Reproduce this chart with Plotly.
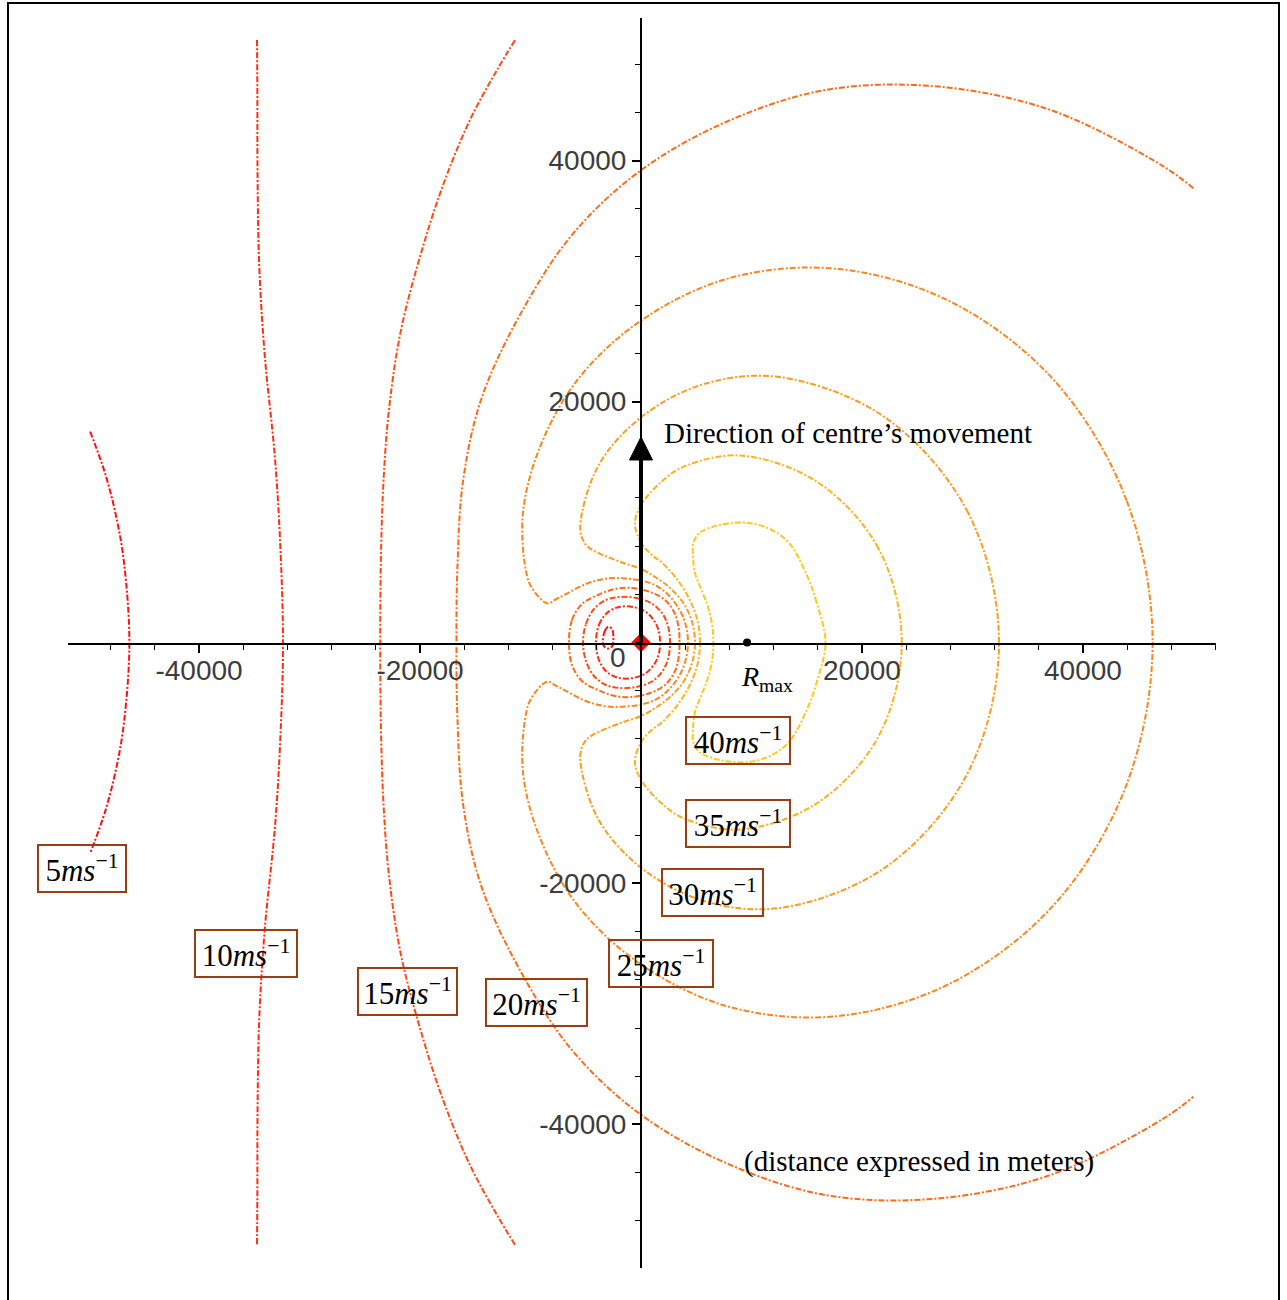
import plotly.graph_objects as go

# ---------------- data (metres / m s^-1) ----------------
LEVELS = [5, 10, 15, 20, 25, 30, 35, 40]

# outer branches of the iso-speed curves
C5_X = [-49850, -48450, -47410, -46780, -46300, -46780, -47410, -48450, -49850]
C5_Y = [17500, 13890, 10080, 6575, 0, -6575, -10080, -13890, -17500]

C10_X = [-34750, -34720, -34700, -34550, -34050, -33140, -32680, -32400,
         -32680, -33140, -34050, -34550, -34700, -34720, -34750]
C10_Y = [50000, 46070, 38570, 31270, 23810, 15455, 8756, 0,
         -8756, -15455, -23810, -31270, -38570, -46070, -50000]

C15_X = [-11400, -13030, -15480, -17740, -19550, -21730, -22830, -23300, -23500, -23580, -23600,
         -23580, -23500, -23300, -22830, -21730, -19550, -17740, -15480, -13030, -11400]
C15_Y = [50000, 47520, 43370, 38390, 33410, 25890, 19150, 13450, 8550, 4160, 0,
         -4160, -8550, -13450, -19150, -25890, -33410, -38390, -43370, -47520, -50000]

C20_X = [50000, 47170, 37080, 26650, 16690, 7610, 0, -6000, -10290, -14350, -16090, -16620, -16700,
         -16620, -16090, -14350, -10290, -6000, 0, 7610, 16690, 26650, 37080, 47170, 50000]
C20_Y = [37700, 39580, 44190, 46160, 45860, 43170, 39200, 34100, 28280, 20490, 13500, 6050, 0,
         -6050, -13500, -20490, -28280, -34100, -39200, -43170, -45860, -46160, -44190, -39580, -37700]

C25_X = [46300, 43950, 37490, 28200, 17900, 8110, 0, -5820, -9235, -10690, -10430, -9940,
         -8500,
         -7700, -6885, -4893, -3065, -1424, 0, 1276, 2345, 3175, 3776, 4134, 4250,
         4134, 3776, 3175, 2345, 1276, 0, -1424, -3065, -4893, -6885, -7700,
         -8500,
         -9940, -10430, -10690, -9235, -5820, 0, 8110, 17900, 28200, 37490, 43950, 46300]
C25_Y = [0, 11780, 21650, 28200, 31000, 30270, 26720, 21720, 16000, 10690, 6020, 4636,
         3250,
         3590, 3975, 4893, 5309, 5313, 5150, 4762, 4062, 3175, 2180, 1108, 0,
         -1108, -2180, -3175, -4062, -4762, -5150, -5313, -5309, -4893, -3975, -3590,
         -3250,
         -4636, -6020, -10690, -16000, -21720, -26720, -30270, -31000, -28200, -21650, -11780, 0]

C30_X = [32400, 29600, 22180, 12710, 5750, 0, -3910, -5500,
         -5100,
         -4450, -1786, 0, 1434, 2615, 3861, 4623, 4890,
         4623, 3861, 2615, 1434, 0, -1786, -4450,
         -5100,
         -5500, -3910, 0, 5750, 12710, 22180, 29600, 32400]
C30_Y = [0, 10770, 18620, 22010, 21470, 18690, 14590, 9500,
         8250,
         7710, 6665, 6100, 5351, 4530, 3240, 1683, 0,
         -1683, -3240, -4530, -5351, -6100, -6665, -7710,
         -8250,
         -9500, -14590, -18690, -21470, -22010, -18620, -10770, 0]

C35_X = [23600, 21480, 15910, 8960, 3916, 1880, 0, -550, 0, 1016, 1796, 3125, 4350, 5100, 5340,
         5100, 4350, 3125, 1796, 1016, 0, -550, 0, 1880, 3916, 8960, 15910, 21480, 23600]
C35_Y = [0, 7820, 13350, 15520, 14615, 13370, 11400, 9900, 8300, 7229, 6703, 5410, 3650, 1860, 0,
         -1860, -3650, -5410, -6703, -7229, -8300, -9900, -11400, -13370, -14615, -15520, -13350, -7820, 0]

C40_X = [16700, 15900, 15060, 13400, 11700, 9900, 8100, 6500, 5300, 4750, 4700, 4890, 5500, 6060, 6450, 6550,
         6450, 6060, 5500, 4890, 4700, 4750, 5300, 6500, 8100, 9900, 11700, 13400, 15060, 15900, 16700]
C40_Y = [0, 3300, 5480, 8260, 9400, 9900, 9900, 9600, 9100, 8300, 7300, 5770, 4300, 2950, 1400, 0,
         -1400, -2950, -4300, -5770, -7300, -8300, -9100, -9600, -9900, -9900, -9400, -8260, -5480, -3300, 0]

# small closed loops around the calm point west of the centre
L5_X = [-3440, -3300, -2950, -2600, -2500, -2600, -3000, -3350, -3440]
L5_Y = [100, 900, 1300, 1100, 400, -300, -500, -300, 100]

L10_X = [-4073, -3801, -3077, -1991, -724, 453, 1267, 1629, 1720,
         1629, 1267, 453, -724, -1991, -3077, -3801, -4073]
L10_Y = [0, 1453, 2449, 2947, 2947, 2532, 1702, 872, 0,
         -872, -1702, -2532, -2947, -2947, -2449, -1453, 0]

L15_X = [-5249, -4978, -4254, -3168, -1901, -453, 905, 1901, 2444, 2625,
         2444, 1901, 905, -453, -1901, -3168, -4254, -4978, -5249]
L15_Y = [0, 1536, 2780, 3528, 3777, 3694, 3279, 2449, 1370, 0,
         -1370, -2449, -3279, -3694, -3777, -3528, -2780, -1536, 0]

L20_X = [-6516, -6245, -5340, -3892, -2353, -815, 815, 2172, 3077, 3439, 3480,
         3439, 3077, 2172, 815, -815, -2353, -3892, -5340, -6245, -6516]
L20_Y = [0, 1868, 3196, 3943, 4440, 4524, 4192, 3528, 2366, 1038, 0,
         -1038, -2366, -3528, -4192, -4524, -4440, -3943, -3196, -1868, 0]

# label anchors (box centres) for each level
LABEL_X = [-50590, -35750, -21130, -9460, 1810, 6470, 8780, 8780]
LABEL_Y = [-18760, -25850, -28970, -29920, -26680, -20710, -15060, -8160]

RMAX_X = 9600          # radius of maximum wind
CENTRE = (0, 0)
TICKS = [-40000, -20000, 20000, 40000]

# ---------------- styles ----------------
LEVEL_COLORS = {5: '#ff1010', 10: '#ff2c10', 15: '#ff4a14', 20: '#ff6a18',
                25: '#ff851a', 30: '#ff9c1a', 35: '#ffb21a', 40: '#ffc81a'}
LABEL_W = [84, 98, 95, 97, 100, 97, 100, 100]
BOX_COLOR = '#993d12'
SERIF = 'Liberation Serif, Times New Roman, serif'
SANS = 'Liberation Sans, Arial, sans-serif'

curves = [
    (5, C5_X, C5_Y), (10, C10_X, C10_Y), (15, C15_X, C15_Y), (20, C20_X, C20_Y),
    (25, C25_X, C25_Y), (30, C30_X, C30_Y), (35, C35_X, C35_Y), (40, C40_X, C40_Y),
    (5, L5_X, L5_Y), (10, L10_X, L10_Y), (15, L15_X, L15_Y), (20, L20_X, L20_Y),
]

fig = go.Figure()
for lev, xs, ys in curves:
    fig.add_trace(go.Scatter(
        x=xs, y=ys, mode='lines', showlegend=False, hoverinfo='skip',
        line=dict(color=LEVEL_COLORS[lev], width=2, shape='spline', smoothing=1.0,
                  dash='6px,2px,2px,2px')))

# centre and Rmax markers
fig.add_trace(go.Scatter(x=[CENTRE[0]], y=[CENTRE[1]], mode='markers', showlegend=False,
                         marker=dict(symbol='diamond', size=15, color='#ff0000')))
fig.add_trace(go.Scatter(x=[RMAX_X], y=[0], mode='markers', showlegend=False,
                         marker=dict(symbol='circle', size=8, color='black')))

# geometry of plot
L, R, T, B = 68, 71, 18, 32
W, H = 1287, 1300
XR = [-51857, 52038]
YR = [-51917, 51834]

axis_common = dict(showgrid=False, zeroline=False, showline=True, linecolor='black', linewidth=2,
                   tickmode='array', tickvals=TICKS, ticktext=[str(t) for t in TICKS],
                   ticks='outside', ticklen=8, tickwidth=1.5, tickcolor='black',
                   tickfont=dict(family=SANS, size=28, color='#3c3c3c'),
                   minor=dict(ticks='outside', ticklen=5, tickwidth=1.3, tickcolor='black',
                              dtick=4000, tick0=0),
                   automargin=False, fixedrange=True, anchor='free')

fig.update_layout(
    width=W, height=H, margin=dict(l=L, r=R, t=T, b=B),
    paper_bgcolor='white', plot_bgcolor='white', showlegend=False,
    xaxis=dict(range=XR, position=(YR[1]) / (YR[1] - YR[0]), ticklabelstandoff=-6, **axis_common),
    yaxis=dict(range=YR, position=(-XR[0]) / (XR[1] - XR[0]), **axis_common),
)

# arrow: shaft + head
ARROW_BASE = 15150
ARROW_TIP = 17060
ARROW_HALF = 1040
fig.add_shape(type='line', x0=0, y0=0, x1=0, y1=ARROW_BASE + 200, xref='x', yref='y',
              line=dict(color='black', width=4))
fig.add_shape(type='path', xref='x', yref='y',
              path=f'M {-ARROW_HALF},{ARROW_BASE} L {ARROW_HALF},{ARROW_BASE} L 0,{ARROW_TIP} Z',
              fillcolor='black', line=dict(color='black', width=1))

# outer frame
pw, ph = W - L - R, H - T - B
fig.add_shape(type='rect', xref='paper', yref='paper',
              x0=(8 - L) / pw, x1=(1279 - L) / pw, y0=-(1302 - (H - B)) / ph, y1=((H - B) - 3) / ph,
              line=dict(color='black', width=2), fillcolor='rgba(0,0,0,0)')

ann = []
for lev, lx, ly, w in zip(LEVELS, LABEL_X, LABEL_Y, LABEL_W):
    ann.append(dict(x=lx, y=ly, xref='x', yref='y', showarrow=False,
                    text=f'{lev}<i>ms</i><sup>\u22121</sup>',
                    font=dict(family=SERIF, size=31, color='black'),
                    bordercolor=BOX_COLOR, borderwidth=2, borderpad=1,
                    width=w, height=43, xanchor='center', yanchor='middle'))

ann.append(dict(x=1900, y=17390, xref='x', yref='y', showarrow=False,
                text='Direction of centre\u2019s movement', xanchor='left', yanchor='middle',
                font=dict(family=SERIF, size=29, color='black')))
ann.append(dict(x=9140, y=-43040, xref='x', yref='y', showarrow=False,
                text='(distance expressed in meters)', xanchor='left', yanchor='middle',
                font=dict(family=SERIF, size=29, color='black')))
ann.append(dict(x=8900, y=-3000, xref='x', yref='y', showarrow=False,
                text='<i>R</i><sub>max</sub>', xanchor='left', yanchor='middle',
                font=dict(family=SERIF, size=28, color='black')))
ann.append(dict(x=-2080, y=-1250, xref='x', yref='y', showarrow=False,
                text='0', xanchor='center', yanchor='middle',
                font=dict(family=SANS, size=28, color='#3c3c3c')))

fig.update_layout(annotations=ann)

fig.write_html('out.html')
